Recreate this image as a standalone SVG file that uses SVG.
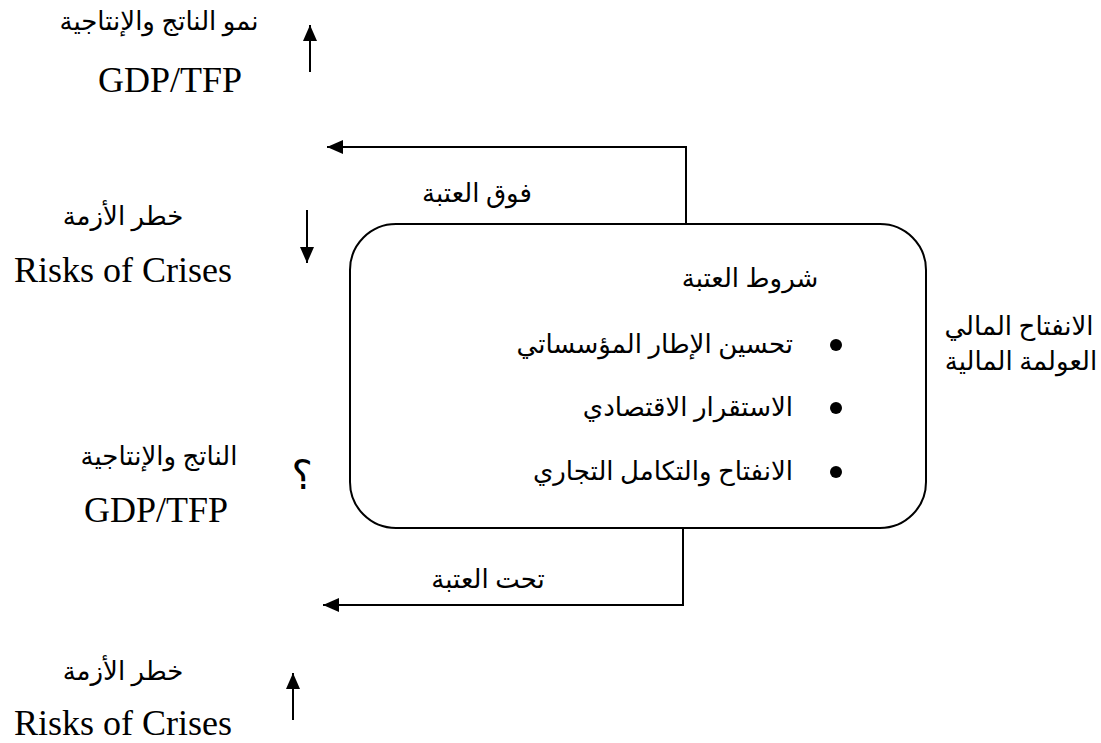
<svg xmlns="http://www.w3.org/2000/svg" width="1101" height="743" viewBox="0 0 1101 743">
  <defs>
    <marker id="headL" viewBox="0 0 16 14" refX="16" refY="7" markerWidth="16" markerHeight="14" markerUnits="userSpaceOnUse" orient="auto">
      <path d="M0,0 L16,7 L0,14 z" fill="#000"/>
    </marker>
    <style>
      .ln { fill: none; stroke: #000; stroke-width: 2; }
      .box { fill: #fff; stroke: #000; stroke-width: 2; }
      .ar { font-family: "Liberation Serif", "DejaVu Sans", serif; font-size: 26px; fill: #000; }
      .lat { font-family: "Liberation Serif", "Times New Roman", serif; font-size: 36px; fill: #000; }
      .mid { text-anchor: middle; }
      .dot { fill: #000; }
    </style>
  </defs>

  <!-- threshold box -->
  <g id="threshold-box">
    <rect class="box" x="350" y="224" width="576" height="304" rx="46" ry="46"/>
    <text class="ar mid" x="750" y="287">شروط العتبة</text>
    <circle class="dot" cx="836" cy="345" r="6"/>
    <text class="ar" x="793" y="353" direction="rtl" text-anchor="start">تحسين الإطار المؤسساتي</text>
    <circle class="dot" cx="836" cy="408" r="6"/>
    <text class="ar" x="793" y="416" direction="rtl" text-anchor="start">الاستقرار الاقتصادي</text>
    <circle class="dot" cx="836" cy="472" r="6"/>
    <text class="ar" x="793" y="480" direction="rtl" text-anchor="start">الانفتاح والتكامل التجاري</text>
  </g>

  <!-- input on the right -->
  <g id="financial-openness">
    <text class="ar mid" x="1019" y="335">الانفتاح المالي</text>
    <text class="ar mid" x="1021" y="370">العولمة المالية</text>
  </g>

  <!-- outcomes above the threshold -->
  <g id="above-growth">
    <text class="ar mid" x="159" y="30">نمو الناتج والإنتاجية</text>
    <text class="lat mid" x="170" y="92">GDP/TFP</text>
  </g>
  <g id="above-risk">
    <text class="ar mid" x="123" y="225">خطر الأزمة</text>
    <text class="lat mid" x="123" y="282">Risks of Crises</text>
  </g>

  <!-- outcomes below the threshold -->
  <g id="below-growth">
    <text class="ar mid" x="159" y="465">الناتج والإنتاجية</text>
    <text class="lat mid" x="156" y="522">GDP/TFP</text>
    <text class="ar mid" x="302" y="489" style="font-size:40px">؟</text>
  </g>
  <g id="below-risk">
    <text class="ar mid" x="123" y="680">خطر الأزمة</text>
    <text class="lat mid" x="123" y="735">Risks of Crises</text>
  </g>

  <!-- connectors -->
  <g id="connectors">
    <path class="ln" d="M686,224 V147 H327" marker-end="url(#headL)"/>
    <text class="ar mid" x="477" y="202">فوق العتبة</text>
    <path class="ln" d="M683,528 V605 H323" marker-end="url(#headL)"/>
    <text class="ar mid" x="488" y="588">تحت العتبة</text>
    <!-- direction indicators -->
    <path class="ln" d="M310,72 V25" marker-end="url(#headL)"/>
    <path class="ln" d="M307,210 V263" marker-end="url(#headL)"/>
    <path class="ln" d="M293,720 V673" marker-end="url(#headL)"/>
  </g>
</svg>
